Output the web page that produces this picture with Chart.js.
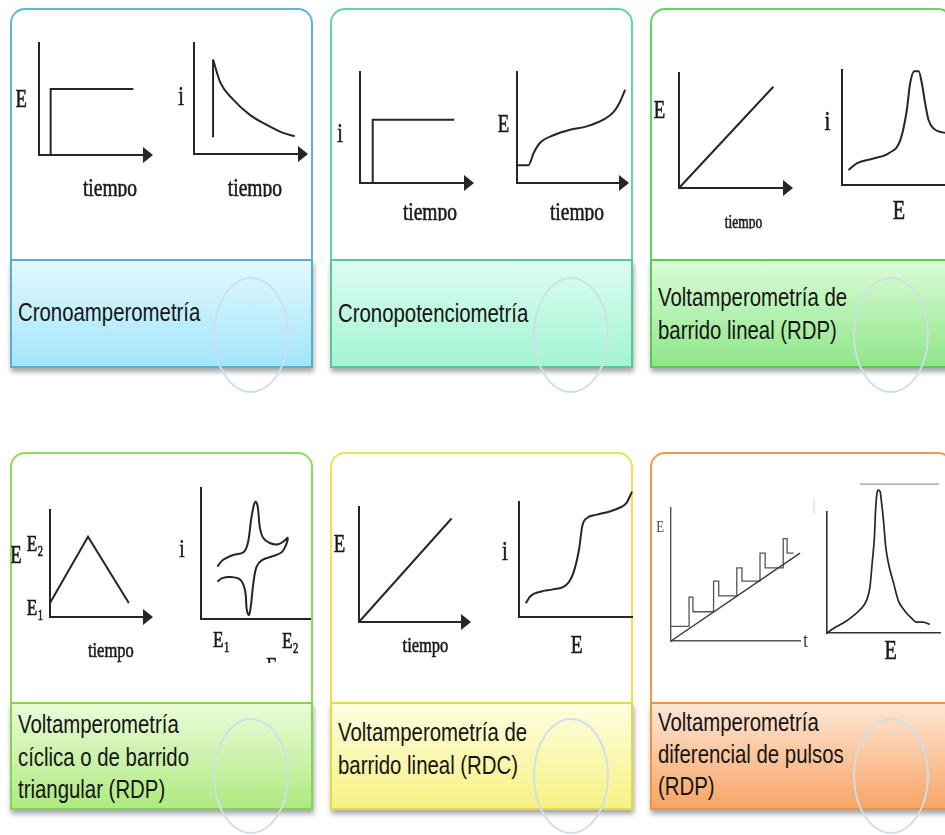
<!DOCTYPE html>
<html><head><meta charset="utf-8">
<script src="https://cdn.jsdelivr.net/npm/chart.js@4.4.1/dist/chart.umd.min.js"></script>
<style>
html,body{margin:0;padding:0;width:945px;height:835px;overflow:hidden;background:#fff;}
.card{position:absolute;background:#fff;border:2px solid;border-radius:15px 15px 0 0;box-sizing:border-box;}
.lab{position:absolute;box-sizing:border-box;border:2px solid;box-shadow:1px 4px 5px rgba(0,0,0,0.35);}
.txt{position:absolute;font-family:"Liberation Sans",Arial,sans-serif;font-size:25px;color:#151515;transform:scaleX(0.815);transform-origin:0 0;white-space:nowrap;}
.ring{position:absolute;width:76px;height:116px;border:2px solid rgba(205,222,233,0.95);border-radius:50%;box-sizing:border-box;}
canvas{position:absolute;}
</style></head><body>

<div class="card" style="left:10px;top:8px;width:303px;height:360px;border-color:#5cb9d5"></div>
<div class="lab" style="left:10px;top:259px;width:303px;height:109px;border-color:#5aaecd;background:linear-gradient(#e2f8fe,#a3e5fa)"></div>
<div class="card" style="left:330px;top:8px;width:303px;height:360px;border-color:#5ed6a5"></div>
<div class="lab" style="left:330px;top:259px;width:303px;height:109px;border-color:#55c99a;background:linear-gradient(#dcfdf0,#a3f4d3)"></div>
<div class="card" style="left:650px;top:8px;width:303px;height:360px;border-color:#5fd65f"></div>
<div class="lab" style="left:650px;top:259px;width:303px;height:109px;border-color:#57c957;background:linear-gradient(#dafcd6,#8fe68a)"></div>
<div class="card" style="left:10px;top:452px;width:303px;height:358px;border-color:#8fdd55"></div>
<div class="lab" style="left:10px;top:702px;width:303px;height:108px;border-color:#86d24f;background:linear-gradient(#eafcd9,#aeea80)"></div>
<div class="card" style="left:330px;top:452px;width:303px;height:358px;border-color:#e4e64e"></div>
<div class="lab" style="left:330px;top:702px;width:303px;height:108px;border-color:#dedd45;background:linear-gradient(#fefee0,#f6f183)"></div>
<div class="card" style="left:650px;top:452px;width:303px;height:358px;border-color:#f4984c"></div>
<div class="lab" style="left:650px;top:702px;width:303px;height:108px;border-color:#ef9145;background:linear-gradient(#fde7d6,#f8a566)"></div>

<div class="txt" style="left:18px;top:296px;line-height:33px">Cronoamperometría</div>
<div class="txt" style="left:338px;top:297px;line-height:33px">Cronopotenciometría</div>
<div class="txt" style="left:658px;top:281px;line-height:33.3px">Voltamperometría de<br>barrido lineal (RDP)</div>
<div class="txt" style="left:18px;top:708px;line-height:32.5px">Voltamperometría<br>cíclica o de barrido<br>triangular (RDP)</div>
<div class="txt" style="left:338px;top:716px;line-height:33.3px">Voltamperometría de<br>barrido lineal (RDC)</div>
<div class="txt" style="left:658px;top:706px;line-height:32px">Voltamperometría<br>diferencial de pulsos<br>(RDP)</div>

<div class="ring" style="left:213px;top:277px"></div>
<div class="ring" style="left:533px;top:277px"></div>
<div class="ring" style="left:853px;top:277px"></div>
<div class="ring" style="left:213px;top:718px"></div>
<div class="ring" style="left:533px;top:718px"></div>
<div class="ring" style="left:853px;top:718px"></div>

<script>
// ---------- DATA (each small plot uses 0–100 axes) ----------
// 1. Cronoamperometría
const caStepT  = [11, 11, 89];
const caStepE  = [0, 59, 59];
const caJumpT  = [18, 18];
const caJumpI  = [15, 85];
const caDecayT = [18, 25, 37, 53, 69, 84, 95];
const caDecayI = [85, 64, 49, 35, 26, 19, 16];
// 2. Cronopotenciometría
const cpStepT  = [12, 12, 89];
const cpStepI  = [0, 57, 57];
const cpCurveT = [0, 11, 16, 22, 35, 51, 67, 83, 93, 99, 104];
const cpCurveE = [16, 16, 27, 36, 43, 48, 51, 57, 64, 73, 84];
// 3. Voltamperometría de barrido lineal (RDP)
const lsvRampT = [0, 89];
const lsvRampE = [0, 88];
const lsvPeakE = [6, 14, 29, 44, 54, 60, 63, 67, 71, 74, 77, 80, 85, 92, 100];
const lsvPeakI = [13, 19, 23, 28, 39, 65, 88, 99, 99, 88, 71, 57, 49, 46, 45];
// 4. Voltamperometría cíclica
const cvTriT  = [0, 40, 83];
const cvTriE  = [13, 75, 13];
const cvLoopE = [15, 20, 30, 39, 43, 46, 48.5, 50, 52, 54, 57, 63, 71, 77, 79.5, 78, 74, 66, 56, 51, 48, 45.6, 44, 42, 40.4, 36, 27, 19, 15];
const cvLoopI = [40, 45, 49, 51, 58, 76, 87, 89.5, 86, 70, 62, 58, 57, 60, 62, 56.5, 51, 48, 45, 40, 27, 9, 3, 7, 22, 30, 32, 31, 28.5];
// 5. Voltamperometría de barrido lineal (RDC)
const rdcRampT = [0, 89];
const rdcRampE = [0, 90];
const rdcWaveE = [6, 10, 19, 30, 42, 48, 53, 56, 60, 69, 81, 89, 95, 100];
const rdcWaveI = [12, 18, 22, 24, 28, 38, 58, 79, 86, 89, 92, 95, 99, 109];
// 6. Voltamperometría diferencial de pulsos
const dpvRampT  = [0, 100];
const dpvRampE  = [0, 66];
const dpvPulseT = [0, 14, 14, 17, 17, 33, 33, 37, 37, 51, 51, 55, 55, 69, 69, 73, 73, 87, 87, 90, 90, 95];
const dpvPulseE = [11, 11, 33, 33, 22, 22, 45, 45, 34, 34, 55, 55, 45, 45, 66, 66, 55, 55, 77, 77, 66, 66];
const dpvPeakE  = [0, 6, 14, 23, 29, 35, 38, 40, 42, 43, 44, 45, 47, 48, 50, 52, 55, 59, 63, 69, 75, 79, 85, 91];
const dpvPeakI  = [0, 4, 8, 14, 19, 27, 38, 58, 80, 102, 114, 118, 117, 110, 93, 71, 55, 41, 27, 18, 12, 9, 9, 7];
const dpvTopE   = [29, 99];
const dpvTopI   = [123, 123];

// ---------- drawing ----------
const deco = {
  id: 'deco',
  afterDatasetsDraw(chart, args, opts) {
    const {ctx, chartArea: a, scales: {x, y}} = chart;
    ctx.save();
    if (opts.arrow) {
      ctx.fillStyle = opts.axisColor;
      ctx.beginPath();
      ctx.moveTo(a.right + 8, a.bottom);
      ctx.lineTo(a.right - 2, a.bottom - 8);
      ctx.lineTo(a.right - 2, a.bottom + 8);
      ctx.closePath();
      ctx.fill();
    }
    (opts.labels || []).forEach(l => {
      const px = x.getPixelForValue(l.x), py = y.getPixelForValue(l.y);
      const main = l.size + 'px "Liberation Serif","Times New Roman",serif';
      const small = Math.round(l.size * 0.6) + 'px "Liberation Serif","Times New Roman",serif';
      ctx.save();
      ctx.translate(px, py);
      ctx.scale(l.sx || 0.75, 1);
      ctx.fillStyle = l.color || '#1a1a1a';
      ctx.strokeStyle = l.color || '#1a1a1a';
      ctx.lineWidth = l.faint ? 0 : 0.6;
      ctx.textAlign = 'left';
      ctx.textBaseline = 'alphabetic';
      ctx.font = main;
      const w = ctx.measureText(l.text).width;
      let total = w, sw = 0;
      if (l.sub) { ctx.font = small; sw = ctx.measureText(l.sub).width; total += sw + 0.5; }
      const start = l.align === 'left' ? 0 : -total / 2;
      ctx.font = main;
      ctx.fillText(l.text, start, 0);
      if (!l.faint) ctx.strokeText(l.text, start, 0);
      if (l.sub) {
        ctx.font = small;
        ctx.fillText(l.sub, start + w + 0.5, l.size * 0.22);
        ctx.strokeText(l.sub, start + w + 0.5, l.size * 0.22);
      }
      ctx.restore();
    });
    ctx.restore();
  }
};

function axis(color, width) {
  return {type: 'linear', min: 0, max: 100, display: true,
    ticks: {display: false}, grid: {display: false, drawTicks: false},
    border: {display: true, color: color, width: width}, title: {display: false}};
}

function mini(c) {
  const cv = document.createElement('canvas');
  const [x0, y0, x1, y1] = c.box;
  const w = x1 - x0, h = y1 - y0;
  cv.width = w; cv.height = h;
  Object.assign(cv.style, {left: x0 + 'px', top: y0 + 'px', width: w + 'px', height: h + 'px'});
  document.body.appendChild(cv);
  const [L, T, R, B] = c.area;
  const axisColor = c.axisColor || '#262626';
  new Chart(cv, {
    type: 'line',
    data: {datasets: c.series.map(s => ({
      data: s.x.map((v, i) => ({x: v, y: s.y[i]})),
      borderColor: s.color || c.color || '#262626',
      borderWidth: s.width || c.width || 2,
      pointRadius: 0, fill: false, clip: false,
      tension: s.tension || 0,
      cubicInterpolationMode: s.mono ? 'monotone' : 'default'
    }))},
    options: {
      responsive: false, animation: false, devicePixelRatio: 1, events: [],
      layout: {autoPadding: false, padding: {left: L - x0, top: T - y0, right: x1 - R, bottom: y1 - B}},
      plugins: {legend: {display: false}, tooltip: {enabled: false},
        deco: {arrow: c.arrow, axisColor: axisColor, labels: c.labels}},
      scales: {x: axis(axisColor, c.axisWidth || 2), y: axis(axisColor, c.axisWidth || 2)}
    },
    plugins: [deco]
  });
}

const charts = [
  {box: [11, 25, 165, 197], area: [39, 43, 145, 155], arrow: true,
   series: [{x: caStepT, y: caStepE}],
   labels: [{text: 'E', x: -16.7, y: 43, size: 25}, {text: 'tiempo', x: 67, y: -36.6, size: 26}]},
  {box: [165, 25, 312, 197], area: [194, 43, 300, 154], arrow: true,
   series: [{x: caJumpT, y: caJumpI}, {x: caDecayT, y: caDecayI, mono: true}],
   labels: [{text: 'i', x: -12.3, y: 44, size: 27}, {text: 'tiempo', x: 57.5, y: -37.8, size: 26}]},
  {box: [331, 50, 480, 221], area: [360, 72, 466, 183], arrow: true,
   series: [{x: cpStepT, y: cpStepI}],
   labels: [{text: 'i', x: -18.9, y: 37.2, size: 27}, {text: 'tiempo', x: 66, y: -33.3, size: 26}]},
  {box: [485, 50, 632, 221], area: [517, 72, 621, 183], arrow: true,
   series: [{x: cpCurveT, y: cpCurveE, mono: true}],
   labels: [{text: 'E', x: -13, y: 46.2, size: 25}, {text: 'tiempo', x: 57.7, y: -33.3, size: 26}]},
  {box: [651, 55, 800, 229], area: [679, 73, 785, 188], arrow: true,
   series: [{x: lsvRampT, y: lsvRampE}],
   labels: [{text: 'E', x: -18.4, y: 60.6, size: 25}, {text: 'tiempo', x: 60.8, y: -35.2, size: 18}]},
  {box: [805, 50, 960, 240], area: [842, 70, 950, 185],
   series: [{x: lsvPeakE, y: lsvPeakI, mono: true}],
   labels: [{text: 'i', x: -13.4, y: 47.8, size: 28}, {text: 'E', x: 52.8, y: -29.8, size: 27}]},
  {box: [11, 490, 165, 690], area: [50, 510, 145, 617], arrow: true,
   series: [{x: cvTriT, y: cvTriE}],
   labels: [{text: 'E', x: -35.8, y: 50.7, size: 25},
            {text: 'E', sub: '2', x: -24.5, y: 62, size: 23, align: 'left'},
            {text: 'E', sub: '1', x: -24.5, y: 1.9, size: 23, align: 'left'},
            {text: 'tiempo', x: 64, y: -37.1, size: 22}]},
  {box: [170, 470, 312, 663], area: [201, 488, 310, 619],
   series: [{x: cvLoopE, y: cvLoopI, tension: 0.35}],
   labels: [{text: 'i', x: -17.4, y: 47.6, size: 26},
            {text: 'E', sub: '1', x: 11, y: -21.1, size: 23, align: 'left'},
            {text: 'E', sub: '2', x: 74.3, y: -22.4, size: 23, align: 'left'},
            {text: 'E', x: 64.9, y: -41.2, size: 24}]},
  {box: [331, 490, 480, 690], area: [359, 507, 463, 622], arrow: true,
   series: [{x: rdcRampT, y: rdcRampE}],
   labels: [{text: 'E', x: -18.8, y: 61.1, size: 25}, {text: 'tiempo', x: 63.9, y: -25.8, size: 22}]},
  {box: [485, 470, 645, 690], area: [519, 502, 632, 617],
   series: [{x: rdcWaveE, y: rdcWaveI, mono: true}],
   labels: [{text: 'i', x: -12.4, y: 49.6, size: 28}, {text: 'E', x: 51.1, y: -31.6, size: 26}]},
  {box: [651, 490, 820, 690], area: [671, 508, 800, 641], axisColor: '#555', axisWidth: 1.4, color: '#3a3a3a', width: 1.5,
   series: [{x: dpvRampT, y: dpvRampE}, {x: dpvPulseT, y: dpvPulseE, color: '#555', width: 1.3}],
   labels: [{text: 'E', x: -8.5, y: 82.2, size: 17, color: '#444', faint: true}, {text: 't', x: 104.3, y: -4.3, size: 22, color: '#333', faint: true}]},
  {box: [800, 470, 960, 690], area: [827, 512, 940, 633], axisColor: '#333', axisWidth: 1.6, width: 1.7,
   series: [{x: dpvPeakE, y: dpvPeakI, mono: true}, {x: dpvTopE, y: dpvTopI, color: '#9a9a9a', width: 1.4}],
   labels: [{text: 'E', x: 56.4, y: -21.7, size: 27}, {text: '|', x: -11.5, y: 101.7, size: 16, color: '#c4c4c4', faint: true}]}
];
charts.forEach(mini);
</script>
</body></html>
